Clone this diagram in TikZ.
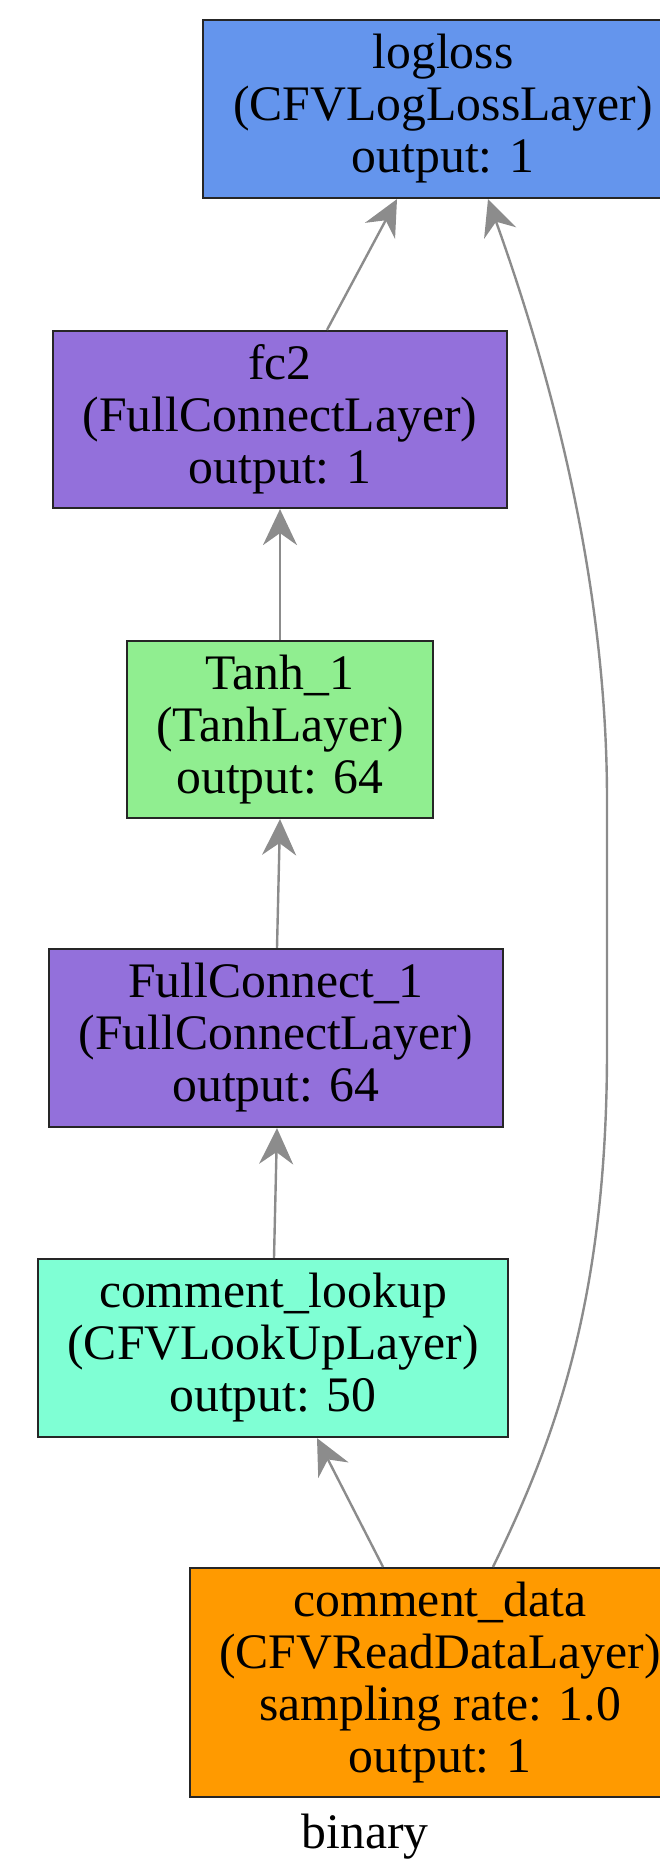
\documentclass[tikz,border=0pt]{standalone}
\usepackage{fontspec}
\setmainfont{Liberation Serif}
\usetikzlibrary{arrows.meta}
\definecolor{cblue}{HTML}{6495ED}
\definecolor{mpurple}{HTML}{9370DB}
\definecolor{lgreen}{HTML}{90EE90}
\definecolor{aqua}{HTML}{7FFFD4}
\definecolor{orng}{HTML}{FF9A00}
\definecolor{edgegray}{HTML}{8C8C8C}
\begin{document}
\begin{tikzpicture}[x=1pt,y=-1pt,
  layer/.style={draw=black!85, line width=2.2pt, inner sep=0pt, align=center,
    font=\fontsize{49.7}{52}\selectfont},
  edge/.style={draw=edgegray, line width=2.4pt,
    -{Stealth[length=36pt,width=34pt,inset=12pt]}}]
\useasboundingbox (0,0) rectangle (660,1862);
\node[layer, fill=cblue, minimum width=480pt, minimum height=178pt] (logloss) at (443,109)
  {logloss\\(CFVLogLossLayer)\\output: 1};
\node[layer, fill=mpurple, minimum width=454pt, minimum height=177pt] (fc2) at (280,419.5)
  {fc2\\(FullConnectLayer)\\output: 1};
\node[layer, fill=lgreen, minimum width=306pt, minimum height=177pt] (tanh) at (280,729.5)
  {Tanh\_1\\(TanhLayer)\\output: 64};
\node[layer, fill=mpurple, minimum width=454pt, minimum height=178pt] (fc1) at (276,1038)
  {FullConnect\_1\\(FullConnectLayer)\\output: 64};
\node[layer, fill=aqua, minimum width=470pt, minimum height=178pt] (lookup) at (273,1348)
  {comment\_lookup\\(CFVLookUpLayer)\\output: 50};
\node[layer, fill=orng, minimum width=500pt, minimum height=229pt] (data) at (440,1682.5)
  {comment\_data\\(CFVReadDataLayer)\\sampling rate: 1.0\\output: 1};
\node[font=\fontsize{49.7}{52}\selectfont, inner sep=0pt] (binary) at (365,1837) {binary};

\path[edge] (fc2.north -| 327,0) -- (logloss.south -| 397,0);
\path[edge] (tanh.north) -- (fc2.south);
\path[edge] (fc1.north -| 277,0) -- (tanh.south -| 280,0);
\path[edge] (lookup.north -| 274,0) -- (fc1.south -| 277,0);
\path[edge] (data.north -| 383,0) -- (lookup.south -| 317,0);
\path[edge] (data.north -| 493,0) .. controls (555,1440) and (607,1300) .. (607,1050)
  -- (607,800) .. controls (607,600) and (560,400) .. (logloss.south -| 488,0);
\end{tikzpicture}
\end{document}
